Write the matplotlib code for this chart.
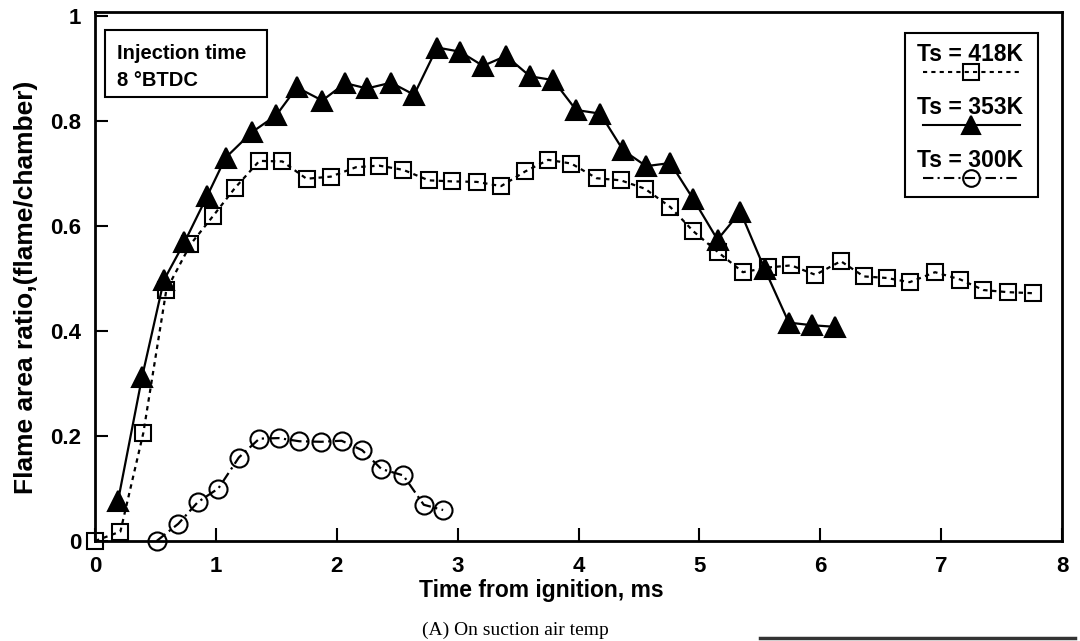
import matplotlib
matplotlib.use("Agg")
import matplotlib.pyplot as plt
from matplotlib.patches import Rectangle
from matplotlib.lines import Line2D

# ---- data ----
t_418 = [0.00, 0.21, 0.40, 0.59, 0.79, 0.98, 1.16, 1.36, 1.55, 1.75, 1.95, 2.16,
         2.35, 2.55, 2.76, 2.95, 3.16, 3.36, 3.56, 3.75, 3.94, 4.15, 4.35, 4.55,
         4.76, 4.95, 5.15, 5.36, 5.57, 5.76, 5.96, 6.17, 6.36, 6.55, 6.74, 6.95,
         7.16, 7.35, 7.55, 7.76]
r_418 = [0.000, 0.018, 0.206, 0.478, 0.565, 0.620, 0.673, 0.724, 0.723, 0.690,
         0.694, 0.712, 0.715, 0.707, 0.687, 0.685, 0.684, 0.676, 0.704, 0.726,
         0.719, 0.691, 0.687, 0.671, 0.636, 0.590, 0.551, 0.512, 0.521, 0.525,
         0.507, 0.533, 0.504, 0.501, 0.493, 0.512, 0.498, 0.478, 0.474, 0.472]

t_353 = [0.19, 0.39, 0.57, 0.74, 0.93, 1.08, 1.30, 1.50, 1.67, 1.88, 2.07, 2.25,
         2.45, 2.64, 2.83, 3.02, 3.21, 3.40, 3.60, 3.79, 3.98, 4.18, 4.37, 4.56,
         4.76, 4.95, 5.15, 5.34, 5.54, 5.74, 5.93, 6.12]
r_353 = [0.076, 0.313, 0.497, 0.569, 0.658, 0.730, 0.779, 0.811, 0.864, 0.839,
         0.872, 0.862, 0.873, 0.850, 0.940, 0.932, 0.905, 0.924, 0.885, 0.878,
         0.821, 0.814, 0.744, 0.714, 0.720, 0.651, 0.574, 0.627, 0.518, 0.416,
         0.411, 0.408]

t_300 = [0.51, 0.69, 0.85, 1.02, 1.19, 1.36, 1.52, 1.69, 1.87, 2.04, 2.21, 2.37,
         2.55, 2.72, 2.88]
r_300 = [0.000, 0.033, 0.074, 0.100, 0.159, 0.195, 0.196, 0.190, 0.189, 0.191,
         0.173, 0.137, 0.125, 0.069, 0.059]

x_ticks = [0, 1, 2, 3, 4, 5, 6, 7, 8]
y_ticks = [0, 0.2, 0.4, 0.6, 0.8, 1.0]
y_tick_labels = ["0", "0.2", "0.4", "0.6", "0.8", "1"]
legend_labels = ["Ts = 418K", "Ts = 353K", "Ts = 300K"]

SANS = ["Liberation Sans", "DejaVu Sans"]
SERIF = ["Liberation Serif", "DejaVu Serif"]
plt.rcParams["font.family"] = SANS

fig = plt.figure(figsize=(10.8, 6.41), dpi=100)
ax = fig.add_axes([95 / 1080, 1 - 541 / 641, (1062 - 95) / 1080, (541 - 12) / 641])

styles = [
    dict(ls=(0, (2, 2)), marker="s", ms=12, mfc="none"),
    dict(ls="-", marker="^", ms=14, mfc="black"),
    dict(ls=(0, (5, 2, 1, 2)), marker="o", ms=13, mfc="none"),
]
series = [(t_418, r_418), (t_353, r_353), (t_300, r_300)]
for (t, r), st in zip(series, styles):
    ax.plot(t, r, color="black", lw=1.6, linestyle=st["ls"], marker=st["marker"],
            ms=st["ms"], mfc=st["mfc"], mec="black", mew=1.5, clip_on=False)

ax.set_xlim(0, 8)
ax.set_ylim(0, 529 / 525)
ax.set_xticks(x_ticks)
ax.set_xticklabels([str(v) for v in x_ticks])
ax.set_yticks(y_ticks)
ax.set_yticklabels(y_tick_labels)
ax.tick_params(direction="in", length=9.5, width=1.5, labelsize=16,
               top=False, right=False)
ax.tick_params(axis="x", pad=11)
ax.tick_params(axis="y", pad=10)
for lab in ax.get_xticklabels() + ax.get_yticklabels():
    lab.set_fontweight("bold")
for sp in ax.spines.values():
    sp.set_linewidth(2.0)

fig.text(541 / 1080, 1 - 590 / 641, "Time from ignition, ms", fontsize=16.5,
         fontweight="bold", ha="center", va="center")
fig.text(26 / 1080, 1 - 287 / 641, "Flame area ratio,(flame/chamber)", fontsize=19,
         fontweight="bold", ha="center", va="center", rotation=90)

# Injection time box
ax.add_patch(Rectangle((0.0103, 0.839), 0.1677, 0.127, transform=ax.transAxes,
                       fill=False, lw=1.5, ec="black"))
ax.text(0.0228, 0.922, "Injection time", transform=ax.transAxes, fontsize=14.5,
        fontweight="bold", va="center", ha="left")
ax.text(0.0228, 0.871, "8 °BTDC", transform=ax.transAxes, fontsize=14.5,
        fontweight="bold", va="center", ha="left")

# custom legend box
ax.add_patch(Rectangle((0.838, 0.650), 0.137, 0.310, transform=ax.transAxes,
                       fill=False, lw=1.5, ec="black"))
text_y = [0.919, 0.819, 0.720]
line_y = [0.887, 0.786, 0.686]
for lab, ty, ly, st in zip(legend_labels, text_y, line_y, styles):
    ax.text(0.905, ty, lab, transform=ax.transAxes, fontsize=16.5,
            fontweight="bold", va="center", ha="center")
    ax.add_line(Line2D([0.856, 0.957], [ly, ly], transform=ax.transAxes,
                       color="black", lw=1.5, linestyle=st["ls"]))
    ax.add_line(Line2D([0.906], [ly], transform=ax.transAxes, marker=st["marker"],
                       ms=st["ms"] - 1, mfc=st["mfc"], mec="black", mew=1.5,
                       color="black", linestyle="none"))

fig.text(515 / 1080, 1 - 630 / 641, "(A) On suction air temp", family=SERIF,
         fontsize=14, ha="center", va="center")

# scan edge line at bottom right
fig.add_artist(Line2D([760 / 1080, 1075 / 1080], [1 - 638 / 641, 1 - 638 / 641],
                      transform=fig.transFigure, color="#333333", lw=2.5))

fig.savefig("out.png", dpi=100)
